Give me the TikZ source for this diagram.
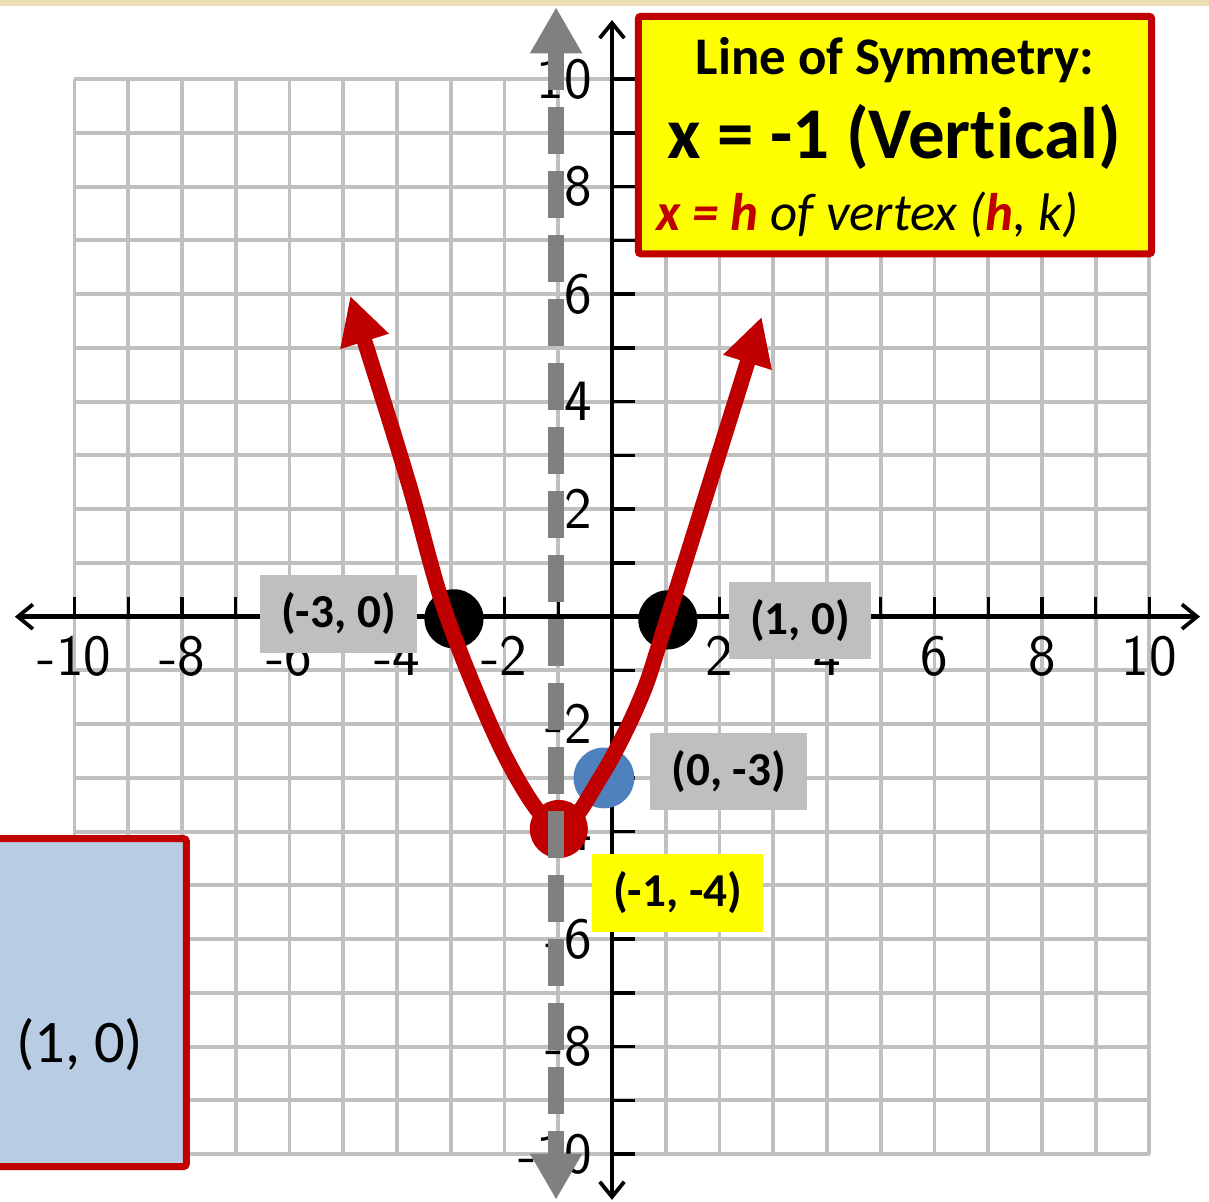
\documentclass[tikz,border=0pt]{standalone}
\usepackage{fontspec}
\newfontfamily\calfont[Ligatures=NoCommon]{Carlito}
\usetikzlibrary{arrows.meta}
\definecolor{dred}{RGB}{192,0,0}
\definecolor{gridgray}{RGB}{192,192,192}
\definecolor{boxgray}{RGB}{191,191,191}
\definecolor{dashgray}{RGB}{128,128,128}
\definecolor{ptblue}{RGB}{79,129,189}
\definecolor{paleblue}{RGB}{184,204,228}
\definecolor{parch}{RGB}{238,223,184}
\definecolor{yel}{RGB}{255,255,0}
\tikzset{
  gridline/.style={draw=gridgray, line width=2.1pt},
  axisline/.style={line width=2.5pt, black},
  tickline/.style={line width=1.8pt, black},
  ticklab/.style={font=\sffamily\fontsize{31pt}{31pt}\selectfont, inner sep=0pt},
  ptlabel/.style={font=\calfont\bfseries\fontsize{25pt}{25pt}\selectfont, inner sep=0pt,
     minimum height=1.44cm, text=black},
  dot/.style={circle, inner sep=0pt, minimum size=#1},
  curveline/.style={line width=0.29cm, draw=dred, line join=round},
}
\begin{document}
\begin{tikzpicture}
\useasboundingbox (-11.386,-10.889) rectangle (11.107,11.473);
% top parchment strip
\fill[parch] (-11.386,11.473) rectangle (11.107,11.36);
% grid
\draw[gridline] (-10,-10) grid (10,10);
% axes
\coordinate (xl) at (-11.11,0);
\coordinate (xr) at (10.94,0);
\coordinate (yb) at (0,-10.85);
\coordinate (yt) at (0,11.10);
\draw[axisline, {Straight Barb[length=8pt,width=13pt,line width=2pt]}-{Straight Barb[length=8pt,width=13pt,line width=2pt]}] (xl) -- (xr);
\draw[axisline, {Straight Barb[length=8pt,width=13pt,line width=2pt]}-{Straight Barb[length=8pt,width=13pt,line width=2pt]}] (yb) -- (yt);
\foreach \i in {-10,...,-1,1,2,...,10}{
  \draw[tickline] (\i,0) -- (\i,0.36);
  \draw[tickline] (0,\i) -- (0.42,\i);
}
\foreach \v in {-10,-8,-6,-4,-2,2,4,6,8,10}{
  \node[ticklab] (xlab\v) at (\v,-0.735) {\v};
  \node[ticklab, anchor=east] (ylab\v) at (-0.37,\v) {\v};
}
% points
\node[dot=1.1cm, fill=black] (pA) at (-2.94,-0.04) {};
\node[dot=1.1cm, fill=black] (pB) at (1.04,-0.06) {};
\node[dot=1.13cm, fill=ptblue] (pC) at (-0.15,-3.0) {};
% parabola
\draw[curveline, {Triangle[width=0.88cm,length=0.89cm]}-{Triangle[width=0.88cm,length=0.89cm]}]
  plot[smooth, tension=0.55] coordinates {(-4.87,5.97) (-3.8,2.54) (-3.07,0) (-1.95,-2.67) (-1,-3.93) (-0.22,-3.0) (0.52,-1.55) (1.04,0) (2.785,5.58)};
\node[dot=1.08cm, fill=dred] (pV) at (-0.99,-3.95) {};
% line of symmetry
\coordinate (st) at (-1.04,11.34);
\coordinate (sb) at (-1.04,-10.85);
\draw[dashgray, line width=0.29cm, dash pattern=on 0.874cm off 0.316cm, dash phase=0.13cm,
  {Triangle[width=0.91cm,length=0.86cm]}-{Triangle[width=0.91cm,length=0.86cm]}] (st) -- (sb);
% point labels
\node[ptlabel, fill=boxgray, minimum width=2.92cm] (lA) at (-5.09,0.05) {(-3, 0)};
\node[ptlabel, fill=boxgray, minimum width=2.64cm] (lB) at (3.50,-0.07) {(1, 0)};
\node[ptlabel, fill=boxgray, minimum width=2.92cm] (lC) at (2.17,-2.88) {(0, -3)};
\node[ptlabel, fill=yel, minimum width=3.18cm] (lV) at (1.22,-5.14) {(-1, -4)};
% info box
\draw[draw=dred, fill=yel, line width=0.13cm, rounded corners=0.05cm] (0.49,6.75) rectangle (10.04,11.17);
\node[font=\calfont\bfseries\fontsize{28pt}{28pt}\selectfont, anchor=base, inner sep=0pt] (t1) at (5.265,10.08) {Line of Symmetry:};
\node[font=\calfont\bfseries\fontsize{38.6pt}{38.6pt}\selectfont, anchor=base, inner sep=0pt] (t2) at (5.25,8.53) {x = -1 (Vertical)};
\node[font=\calfont\itshape\fontsize{28pt}{28pt}\selectfont, anchor=base west, inner sep=0pt] (t3) at (0.82,7.19)
  {{\color{dred}\bfseries x = h} of vertex ({\color{dred}\bfseries h}, k)};
% blue box
\draw[draw=dred, fill=paleblue, line width=0.13cm, rounded corners=0.05cm] (-12,-10.23) rectangle (-7.92,-4.13);
\node[font=\calfont\fontsize{32pt}{32pt}\selectfont, inner sep=0pt] (bt) at (-9.90,-7.97) {(1, 0)};
\end{tikzpicture}
\end{document}
